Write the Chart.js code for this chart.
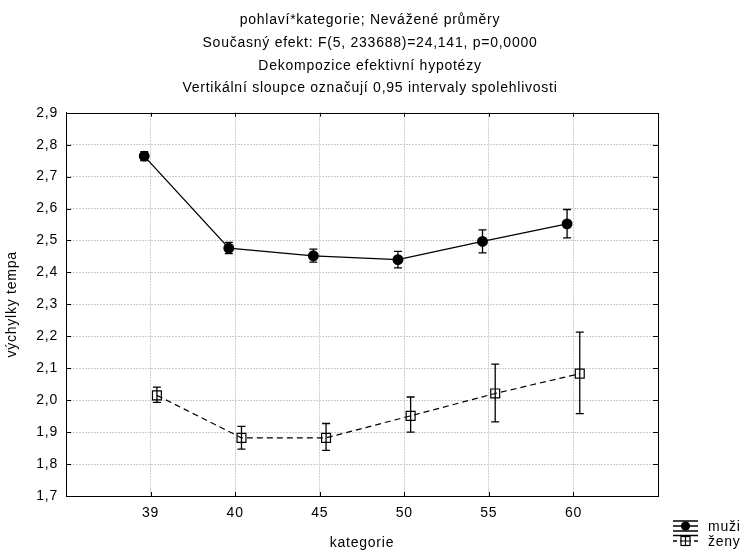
<!DOCTYPE html>
<html lang="cs">
<head>
<meta charset="UTF-8">
<title>výchylky tempa</title>
<script src="https://cdn.jsdelivr.net/npm/chart.js@4"></script>
<style>
    html, body { margin: 0; padding: 0; background: #fff; }
    #wrap { width: 740px; height: 554px; }
</style>
</head>
<body>
<div id="wrap"><canvas id="graf"></canvas></div>
<script>
    // hodnoty
    const kategorie = ['39', '40', '45', '50', '55', '60'];
    const muziPrumer = [2.764, 2.476, 2.452, 2.440, 2.497, 2.552];
    const muziDolni  = [2.750, 2.459, 2.432, 2.414, 2.461, 2.508];
    const muziHorni  = [2.778, 2.494, 2.473, 2.466, 2.533, 2.597];
    const zenyPrumer = [2.015, 1.882, 1.882, 1.951, 2.021, 2.083];
    const zenyDolni  = [1.993, 1.847, 1.843, 1.900, 1.932, 1.958];
    const zenyHorni  = [2.041, 1.918, 1.927, 2.010, 2.113, 2.213];
    const nazvySerii = ['muži', 'ženy'];
    const titulek = [
        'pohlaví*kategorie; Nevážené průměry',
        'Současný efekt: F(5, 233688)=24,141, p=0,0000',
        'Dekompozice efektivní hypotézy',
        'Vertikální sloupce označují 0,95 intervaly spolehlivosti'
    ];

    const POSUN = 0.075; // posun značek vedle sebe
    const PISMO = '"Liberation Sans", Arial, sans-serif';
    const ROZPAL = '0.75px'; // původní písmo je o něco širší
    Chart.defaults.font.family = PISMO;
    Chart.defaults.font.size = 14;
    Chart.defaults.color = '#000';

    function body(prumery, posun) {
        return prumery.map((v, i) => ({ x: i + 1 + posun, y: v }));
    }

    // rozpal písma (stav kontextu se po změně velikosti plátna ztrácí)
    const rozpal = {
        id: 'rozpal',
        beforeLayout(chart) { chart.ctx.letterSpacing = ROZPAL; },
        beforeDraw(chart) { chart.ctx.letterSpacing = ROZPAL; }
    };

    // chybové úsečky (intervaly spolehlivosti)
    const chyboveUsecky = {
        id: 'chyboveUsecky',
        afterDatasetsDraw(chart) {
            const ctx = chart.ctx;
            const sx = chart.scales.x, sy = chart.scales.y;
            const serie = [
                [muziDolni, muziHorni, -POSUN],
                [zenyDolni, zenyHorni, POSUN]
            ];
            ctx.save();
            ctx.strokeStyle = '#000';
            ctx.lineWidth = 1.3;
            serie.forEach(([dolni, horni, posun]) => {
                dolni.forEach((d, i) => {
                    const x = sx.getPixelForValue(i + 1 + posun);
                    const y1 = sy.getPixelForValue(d);
                    const y2 = sy.getPixelForValue(horni[i]);
                    ctx.beginPath();
                    ctx.moveTo(x, y1); ctx.lineTo(x, y2);
                    ctx.moveTo(x - 4, y1); ctx.lineTo(x + 4, y1);
                    ctx.moveTo(x - 4, y2); ctx.lineTo(x + 4, y2);
                    ctx.stroke();
                });
            });
            ctx.restore();
        }
    };

    // rámeček, dovnitř mířící značky a legenda
    const ramecek = {
        id: 'ramecek',
        afterDraw(chart) {
            const ctx = chart.ctx;
            const a = chart.chartArea;
            const sx = chart.scales.x, sy = chart.scales.y;
            ctx.save();
            ctx.strokeStyle = '#000';
            ctx.lineWidth = 1;
            ctx.strokeRect(Math.round(a.left) + 0.5, Math.round(a.top) + 0.5,
                Math.round(a.right - a.left), Math.round(a.bottom - a.top));
            ctx.beginPath();
            kategorie.forEach((k, i) => {
                const x = Math.round(sx.getPixelForValue(i + 1)) + 0.5;
                ctx.moveTo(x, a.top); ctx.lineTo(x, a.top + 4);
                ctx.moveTo(x, a.bottom); ctx.lineTo(x, a.bottom - 4);
            });
            sy.ticks.forEach(t => {
                const y = Math.round(sy.getPixelForValue(t.value)) + 0.5;
                ctx.moveTo(a.left, y); ctx.lineTo(a.left + 5, y);
                ctx.moveTo(a.right, y); ctx.lineTo(a.right - 5, y);
            });
            ctx.stroke();

            // legenda
            const x1 = a.right + 15, x2 = x1 + 25, xm = (x1 + x2) / 2;
            const r1 = a.bottom + 30, r2 = a.bottom + 45;
            ctx.lineWidth = 1.3;
            ctx.beginPath();
            ctx.moveTo(x1, r1 - 5); ctx.lineTo(x2, r1 - 5);
            ctx.moveTo(x1, r1); ctx.lineTo(x2, r1);
            ctx.moveTo(x1, r1 + 5); ctx.lineTo(x2, r1 + 5);
            ctx.moveTo(x1, r2 - 5.5); ctx.lineTo(x2, r2 - 5.5);
            ctx.moveTo(xm, r2 - 5.5); ctx.lineTo(xm, r2 + 5);
            ctx.stroke();
            ctx.beginPath();
            ctx.arc(xm, r1, 4.6, 0, Math.PI * 2);
            ctx.fillStyle = '#000';
            ctx.fill();
            ctx.setLineDash([4, 3]);
            ctx.beginPath();
            ctx.moveTo(x1, r2); ctx.lineTo(x2, r2);
            ctx.stroke();
            ctx.setLineDash([]);
            ctx.fillStyle = '#fff';
            ctx.fillRect(xm - 4.5, r2 - 4.5, 9, 9);
            ctx.lineWidth = 1.2;
            ctx.strokeRect(xm - 4.5, r2 - 4.5, 9, 9);
            ctx.beginPath();
            ctx.moveTo(xm, r2 - 4.5); ctx.lineTo(xm, r2 + 4.5);
            ctx.moveTo(xm - 4.5, r2); ctx.lineTo(xm + 4.5, r2);
            ctx.stroke();
            ctx.fillStyle = '#000';
            ctx.font = '14px ' + PISMO;
            ctx.textBaseline = 'middle';
            ctx.textAlign = 'left';
            ctx.fillText(nazvySerii[0], x2 + 10, r1 + 1);
            ctx.fillText(nazvySerii[1], x2 + 10, r2 + 1);
            ctx.restore();
        }
    };

    const mrizka = ctx => (ctx.tick.value === 0 || ctx.tick.value === 7 ||
        Math.abs(ctx.tick.value - 1.7) < 1e-6 || Math.abs(ctx.tick.value - 2.9) < 1e-6)
        ? 'rgba(0,0,0,0)' : '#cdcdcd';

    new Chart(document.getElementById('graf'), {
        type: 'line',
        data: {
            datasets: [{
                label: nazvySerii[0],
                data: body(muziPrumer, -POSUN),
                borderColor: '#000',
                backgroundColor: '#000',
                borderWidth: 1.3,
                pointStyle: 'circle',
                pointRadius: 4.8,
                pointBackgroundColor: '#000',
                pointBorderColor: '#000',
                tension: 0
            }, {
                label: nazvySerii[1],
                data: body(zenyPrumer, POSUN),
                borderColor: '#000',
                borderWidth: 1.2,
                borderDash: [6, 4],
                pointStyle: 'rect',
                pointRadius: 6.3,
                pointBackgroundColor: 'rgba(0,0,0,0)',
                pointBorderColor: '#000',
                pointBorderWidth: 1.2,
                tension: 0
            }]
        },
        options: {
            responsive: true,
            maintainAspectRatio: false,
            animation: false,
            layout: { padding: 0 },
            plugins: {
                legend: { display: false },
                tooltip: { enabled: false },
                title: {
                    display: true,
                    text: titulek,
                    color: '#000',
                    font: { size: 14, weight: 'normal', lineHeight: 1.62 },
                    padding: { top: 9, bottom: 13 }
                }
            },
            scales: {
                x: {
                    type: 'linear',
                    min: 0,
                    max: 7,
                    afterBuildTicks: s => { s.ticks = [0, 1, 2, 3, 4, 5, 6, 7].map(v => ({ value: v })); },
                    afterFit: s => { s.height = 58; },
                    ticks: {
                        padding: 9,
                        autoSkip: false,
                        maxRotation: 0,
                        callback: v => kategorie[v - 1] || ''
                    },
                    grid: { color: mrizka, drawTicks: false, lineWidth: 1 },
                    border: { color: '#000', width: 1, dash: [2, 1] },
                    title: { display: true, text: 'kategorie', padding: { top: 0, bottom: 2 } }
                },
                y: {
                    min: 1.7,
                    max: 2.9,
                    afterFit: s => { s.width = 66; },
                    ticks: {
                        stepSize: 0.1,
                        padding: 8,
                        callback: v => v.toFixed(1).replace('.', ',')
                    },
                    grid: { color: mrizka, drawTicks: false, lineWidth: 1 },
                    border: { color: '#000', width: 1, dash: [2, 1] },
                    title: { display: true, text: 'výchylky tempa', padding: { top: 4, bottom: 0 } }
                },
                prava: {
                    position: 'right',
                    min: 1.7,
                    max: 2.9,
                    afterFit: s => { s.width = 82; },
                    ticks: { display: false },
                    grid: { drawOnChartArea: false, drawTicks: false },
                    border: { display: false }
                }
            }
        },
        plugins: [rozpal, chyboveUsecky, ramecek]
    });
</script>
</body>
</html>
